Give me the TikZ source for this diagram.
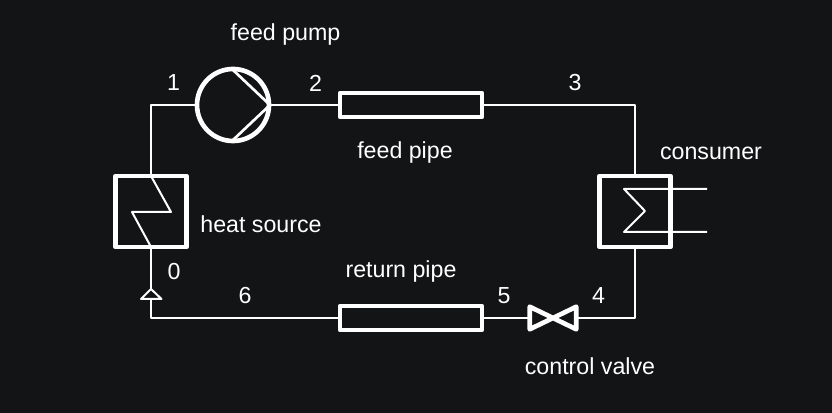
\documentclass[tikz,border=0pt]{standalone}
\usepackage{fontspec}
\setmainfont{Liberation Sans}
\definecolor{bgdark}{RGB}{19,20,22}
\begin{document}
\begin{tikzpicture}[x=0.75pt, y=-0.75pt, line join=round,
                    hxbox/.style = {draw=white, line width=3.5pt, minimum size=53.25pt, inner sep=0pt},
                    pipebox/.style = {draw=white, line width=3.5pt, minimum width=106.5pt, minimum height=18pt, inner sep=0pt},
                    pumpcircle/.style = {shape=circle, draw=white, line width=3.5pt, minimum size=54pt, inner sep=0pt},
                    flowline/.style = {draw=white, line width=1.5pt},
                    label/.style = {text=white, font=\fontsize{17.4pt}{19pt}\selectfont, inner sep=0pt}]
        \fill[bgdark] (0,0) rectangle (832,413);
        \useasboundingbox (0,0) rectangle (832,413);
        \node[hxbox] (heatsource) at (151,211.5) {};
        \node[hxbox, right of=heatsource, node distance=363pt] (consumer) {};
        \node[pumpcircle] (pump) at (233,105) {};
        \node[pipebox] (feedpipe) at (411,105) {};
        \node[pipebox, below of=feedpipe, node distance=159.75pt] (returnpipe) {};
        \node[minimum width=34.5pt, minimum height=16.5pt, inner sep=0pt] (valve) at (553,318) {};
        \coordinate (check) at (151,289);
        \coordinate (hotend) at (707,189);
        \coordinate (coldend) at (707,232);
        % pipes
        \draw[flowline] (pump.west) -| (heatsource.north);
        \draw[flowline] (pump.east) -- (feedpipe.west);
        \draw[flowline] (feedpipe.east) -| (consumer.north);
        \draw[flowline] (consumer.south) |- (valve.east);
        \draw[flowline] (valve.west) -- (returnpipe.east);
        \draw[flowline] (returnpipe.west) -| (check);
        \draw[flowline] (heatsource.south) -- (check);
        % symbols
        \draw[flowline, fill=bgdark] (check) -- (141,299) -- (161.5,299) -- cycle;
        \draw[flowline] (151,176) -- (171,212) -- (132,212) -- (151,247);
        \draw[flowline] (hotend) -- (624,189) -- (645,211) -- (624,232) -- (coldend);
        \draw[flowline, line width=2pt] (233,70) -- (270,105) -- (233,140);
        \draw[draw=white, line width=3.5pt] (valve.north west) -- (valve.south east) -- (valve.north east) -- (valve.south west) -- cycle;
        % texts
        \node[label] (pumplabel) at (285.5,35) {feed pump};
        \node[label] (feedlabel) at (405,153) {feed pipe};
        \node[label] (sourcelabel) at (261,224) {heat source};
        \node[label] (consumerlabel) at (711,153) {consumer};
        \node[label] (returnlabel) at (401,272) {return pipe};
        \node[label] (valvelabel) at (590,366) {control valve};
        \node[label] (n0) at (174,272) {0};
        \node[label] (n1) at (173.5,83) {1};
        \node[label] (n2) at (315.5,83) {2};
        \node[label] (n3) at (575,83) {3};
        \node[label] (n4) at (598.5,296) {4};
        \node[label] (n5) at (504,296) {5};
        \node[label] (n6) at (245,296) {6};
    \end{tikzpicture}
\end{document}
